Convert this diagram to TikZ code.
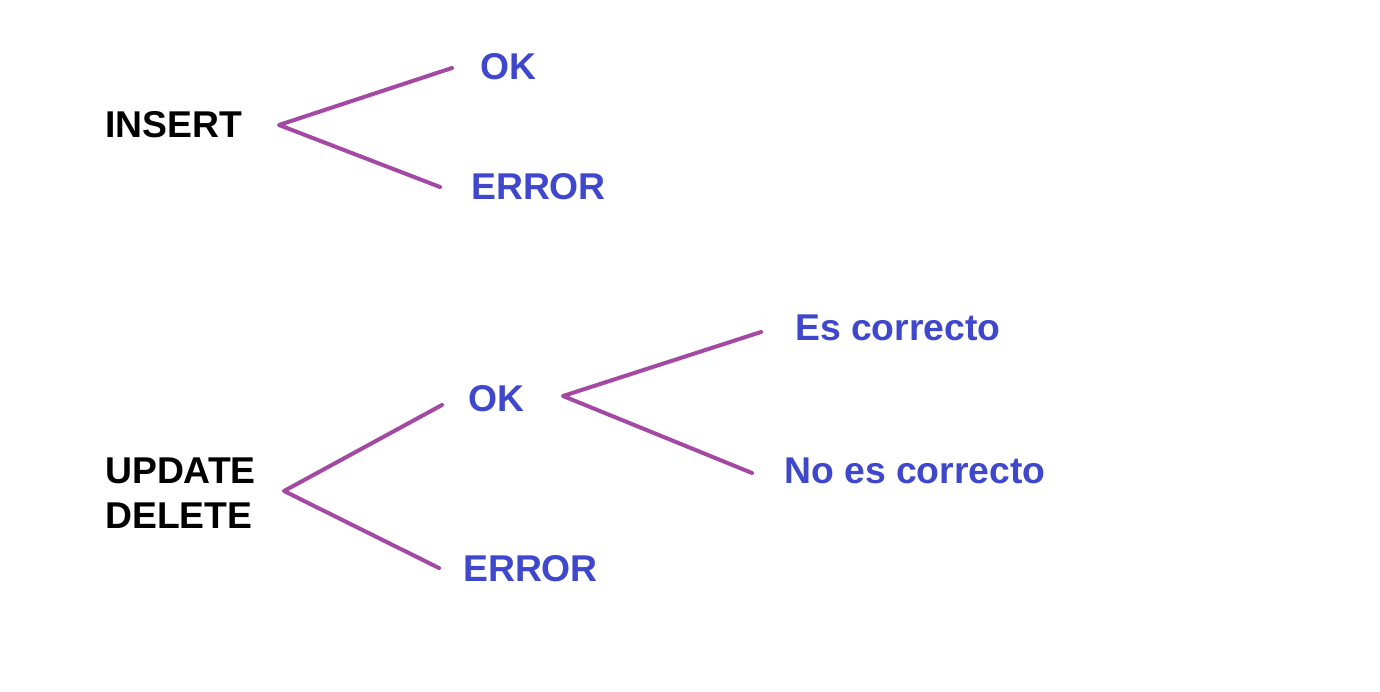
\documentclass[tikz,border=0pt]{standalone}
\usepackage{fontspec}
\setmainfont{Liberation Sans}
\definecolor{txtblue}{RGB}{63,72,204}
\definecolor{linepurple}{RGB}{163,73,164}
\begin{document}
\begin{tikzpicture}[x=1pt,y=-1pt,
  lbl/.style={anchor=base west,inner sep=0pt,font=\fontsize{37.3}{45}\selectfont\bfseries},
  blk/.style={lbl,text=black},
  blu/.style={lbl,text=txtblue},
  branch/.style={draw=linepurple,line width=4pt,line cap=round,line join=round}]
\useasboundingbox[fill=white] (0,0) rectangle (1380,692);
% labels
\node[blk] (insert) at (105,138) {INSERT};
\node[blu] (ok1) at (480,80) {OK};
\node[blu] (err1) at (471,200) {ERROR};
\node[blk] (update) at (105,483) {UPDATE};
\node[blk] (delete) at (105,528) {DELETE};
\node[blu] (ok2) at (468,411) {OK};
\node[blu] (err2) at (463,581) {ERROR};
\node[blu] (es) at (795,340) {Es correcto};
\node[blu] (noes) at (784,483) {No es correcto};
% branch points
\coordinate (v1) at (279,125);
\coordinate (a1) at (452,68);
\coordinate (b1) at (440,187);
\coordinate (v2) at (284,491);
\coordinate (a2) at (442,405);
\coordinate (b2) at (439,568);
\coordinate (v3) at (563,396);
\coordinate (a3) at (761,332);
\coordinate (b3) at (752,473);
\draw[branch] (a1) -- (v1) -- (b1);
\draw[branch] (a2) -- (v2) -- (b2);
\draw[branch] (a3) -- (v3) -- (b3);
\end{tikzpicture}
\end{document}
